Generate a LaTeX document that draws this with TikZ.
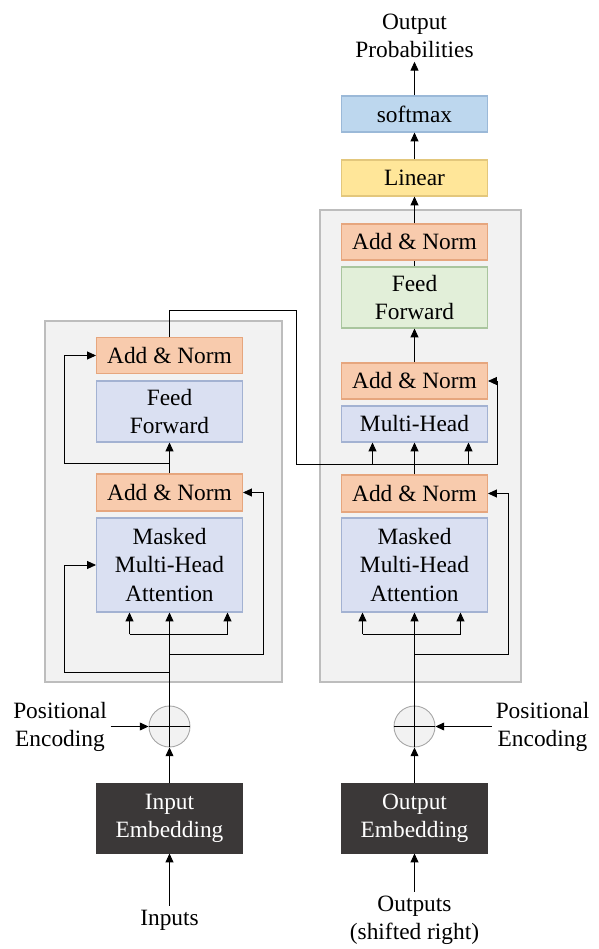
\documentclass[tikz,border=0pt]{standalone}
\usepackage{fontspec}
\setmainfont{Liberation Serif}
\usepackage{tikz}
\usetikzlibrary{arrows.meta,positioning,calc}

\definecolor{normfill}{HTML}{F8CBAD}
\definecolor{normdraw}{HTML}{E6A67E}
\definecolor{attfill}{HTML}{DAE0F2}
\definecolor{attdraw}{HTML}{A3B2D2}
\definecolor{fffill}{HTML}{E2EFD9}
\definecolor{ffdraw}{HTML}{A9C59E}
\definecolor{linfill}{HTML}{FFE699}
\definecolor{lindraw}{HTML}{E3C77C}
\definecolor{smfill}{HTML}{BDD7EE}
\definecolor{smdraw}{HTML}{9BB9D8}
\definecolor{embfill}{HTML}{3B3838}
\definecolor{stackfill}{HTML}{F2F2F2}
\definecolor{stackdraw}{HTML}{BDBDBD}

\begin{document}
\begin{tikzpicture}[
		txt/.style={font=\fontsize{13.3}{16}\selectfont},
		stack/.style={draw=stackdraw, fill=stackfill, line width=0.9pt, inner sep=0pt},
		block/.style={txt, draw, line width=0.6pt, minimum width=2.92cm,
				align=center, inner sep=0pt},
		norm/.style={block, draw=normdraw, fill=normfill, minimum height=0.72cm},
		att/.style={block, draw=attdraw, fill=attfill},
		emb/.style={block, draw=embfill, fill=embfill, text=white, minimum height=1.38cm},
		sumnode/.style={circle, draw=gray!70, fill=stackfill, line width=0.5pt,
				minimum size=0.82cm, inner sep=0pt},
		lbl/.style={txt, align=center, inner sep=2pt},
		wire/.style={line width=0.5pt},
		arr/.style={wire, -{Triangle[length=5pt,width=4.5pt]}}]

	\useasboundingbox (0,0) rectangle (11.98,18.98);

	% Stacks
	\node[stack, minimum width=4.74cm, minimum height=7.22cm] (enc) at (3.27,8.95) {};
	\node[stack, minimum width=4.02cm, minimum height=9.44cm] (dec) at (8.41,10.06) {};

	% Left stack
	\node[norm] (lan2) at (3.39,11.87) {Add \& Norm};
	\node[att, minimum height=1.22cm] (lff) at (3.39,10.75) {Feed\\Forward};
	\node[norm, minimum height=0.74cm] (lan1) at (3.39,9.13) {Add \& Norm};
	\node[att, minimum height=1.88cm] (lmha) at (3.39,7.68) {Masked\\Multi-Head\\Attention};

	% Right stack
	\node[norm] (ran3) at (8.29,14.14) {Add \& Norm};
	\node[block, draw=ffdraw, fill=fffill, minimum height=1.22cm] (rff) at (8.29,13.03) {Feed\\Forward};
	\node[norm] (ran2) at (8.29,11.36) {Add \& Norm};
	\node[att, minimum height=0.72cm] (rmh) at (8.29,10.50) {Multi-Head};
	\node[norm, minimum height=0.74cm] (ran1) at (8.29,9.11) {Add \& Norm};
	\node[att, minimum height=1.88cm] (rmha) at (8.29,7.68) {Masked\\Multi-Head\\Attention};

	% Head
	\node[block, draw=lindraw, fill=linfill, minimum height=0.72cm] (lin) at (8.29,15.42) {Linear};
	\node[block, draw=smdraw, fill=smfill, minimum height=0.72cm] (smax) at (8.29,16.70) {softmax};
	\node[lbl] (prob) at (8.29,18.26) {Output\\Probabilities};

	% Embeddings and positional encoding
	\node[sumnode] (ladd) at (3.39,4.45) {};
	\node[sumnode] (radd) at (8.29,4.45) {};
	\node[emb] (lemb) at (3.39,2.61) {Input\\Embedding};
	\node[emb] (remb) at (8.29,2.61) {Output\\Embedding};
	\node[lbl] (lpe) at (1.2,4.45) {Positional\\Encoding};
	\node[lbl] (rpe) at (10.85,4.45) {Positional\\Encoding};
	\node[lbl] (inp) at (3.39,0.58) {Inputs};
	\node[lbl] (outp) at (8.29,0.58) {Outputs\\(shifted right)};

	\draw[wire] (ladd.west) -- (ladd.east) (ladd.south) -- (ladd.north);
	\draw[wire] (radd.west) -- (radd.east) (radd.south) -- (radd.north);

	% Bottom inputs
	\draw[arr] (inp) -- (lemb);
	\draw[arr] (outp) -- (remb);
	\draw[arr] (lemb) -- (ladd);
	\draw[arr] (remb) -- (radd);
	\draw[arr] (lpe) -- (ladd);
	\draw[arr] (rpe) -- (radd);

	% Left stack wiring
	\coordinate (lq) at (2.59,6.29);
	\coordinate (lv) at (4.55,6.29);
	\draw[arr] (ladd.north) -- (lmha.south);
	\draw[wire] (lq) -- (lv);
	\draw[arr] (lq) -- (lq |- lmha.south);
	\draw[arr] (lv) -- (lv |- lmha.south);
	\draw[arr] (3.39,5.89) -- ++(1.88,0) |- (lan1.east);
	\draw[arr] (3.39,5.53) -- ++(-2.1,0) |- (lmha.west);
	\draw[arr] (lan1.north) -- (lff.south);
	\draw[arr] (3.39,9.71) -- ++(-2.1,0) |- (lan2.west);

	% Encoder to decoder
	\coordinate (up) at (5.93,12.77);
	\coordinate (bus) at (9.95,9.69);
	\coordinate (mq) at (7.45,9.69);
	\coordinate (mk) at (9.37,9.69);
	\draw[arr] (lan2.north) |- (up) |- (bus) |- (ran2.east);
	\draw[arr] (mq) -- (mq |- rmh.south);
	\draw[arr] (mk) -- (mk |- rmh.south);

	% Right stack wiring
	\coordinate (rq) at (7.25,6.29);
	\coordinate (rv) at (9.21,6.29);
	\draw[arr] (radd.north) -- (rmha.south);
	\draw[wire] (rq) -- (rv);
	\draw[arr] (rq) -- (rq |- rmha.south);
	\draw[arr] (rv) -- (rv |- rmha.south);
	\draw[arr] (8.29,5.89) -- ++(1.88,0) |- (ran1.east);
	\draw[arr] (ran1.north) -- (rmh.south);
	\draw[arr] (ran2.north) -- (rff.south);
	\draw[wire] (rff.north) -- (ran3.south);
	\draw[arr] (ran3.north) -- (lin.south);
	\draw[arr] (lin.north) -- (smax.south);
	\draw[arr] (smax.north) -- (prob);

\end{tikzpicture}
\end{document}
